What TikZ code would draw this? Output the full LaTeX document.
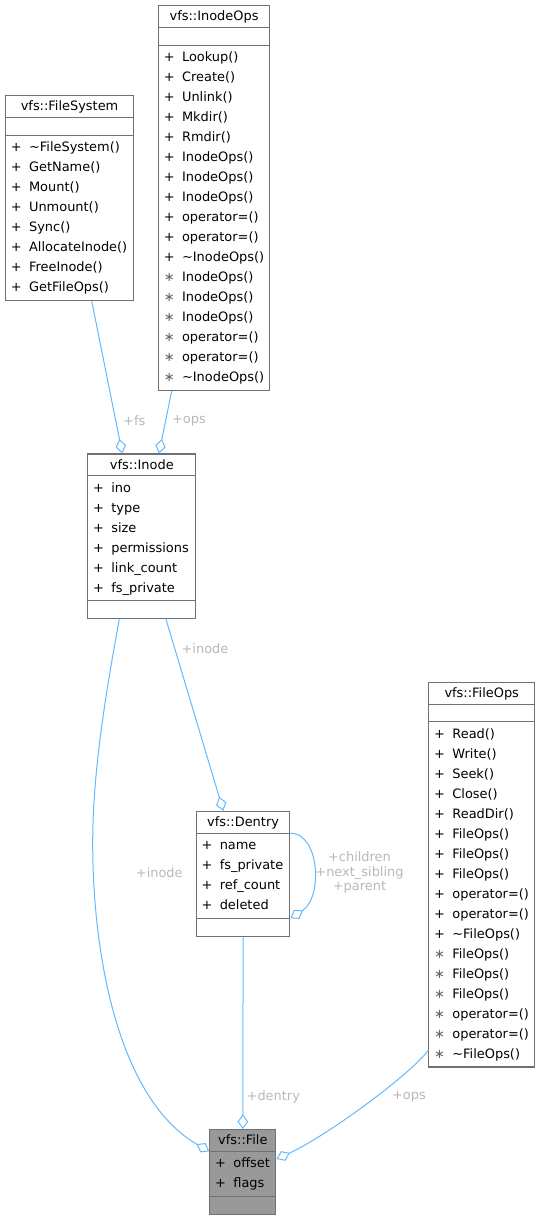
\documentclass[tikz,border=0pt]{standalone}
\usepackage{fontspec}
\setmainfont{DejaVu Sans}
\usetikzlibrary{shapes.multipart,arrows.meta,positioning,calc}

\definecolor{edgeblue}{HTML}{63B8FF}
\definecolor{boxgrey}{HTML}{707070}
\definecolor{lblgrey}{HTML}{B8B8B8}
\definecolor{filegrey}{HTML}{999999}

\newcommand{\members}[1]{\begin{tabular}{@{}c@{\hspace{5.5pt}}l@{}}#1\end{tabular}}
\newcommand{\nomembers}{\rule{0pt}{9.5pt}}
\newcommand{\clstitle}[1]{\rule[-3pt]{0pt}{12.5pt}#1}
\newcommand{\prv}{{\color{black!60}\char"2217}}

\tikzset{
  cls/.style={draw=boxgrey, line width=0.85pt, fill=white, rectangle split, rectangle split parts=3,
    rectangle split part align={center,left,left}, inner xsep=4pt, inner ysep=1.5pt,
    anchor=north west, font=\fontsize{9.7}{15}\selectfont},
  rel/.style={draw=edgeblue, line width=0.75pt, -{Diamond[open,length=11pt,width=8pt]}},
  lbl/.style={text=lblgrey, font=\fontsize{9.7}{10.9}\selectfont, inner sep=0pt}
}

\begin{document}
\begin{tikzpicture}[x=0.75pt,y=-0.75pt]
\useasboundingbox (0,0) rectangle (539,1220);

% classes
\node[cls, minimum width=96pt] (filesystem) at (5,95) {\clstitle{vfs::FileSystem}
  \nodepart{second}\nomembers
  \nodepart{third}\members{+ & \textasciitilde FileSystem()\\ + & GetName()\\ + & Mount()\\ + & Unmount()\\
    + & Sync()\\ + & AllocateInode()\\ + & FreeInode()\\ + & GetFileOps()}};

\node[cls, minimum width=83pt] (inodeops) at (158,5) {\clstitle{vfs::InodeOps}
  \nodepart{second}\nomembers
  \nodepart{third}\members{+ & Lookup()\\ + & Create()\\ + & Unlink()\\ + & Mkdir()\\ + & Rmdir()\\
    + & InodeOps()\\ + & InodeOps()\\ + & InodeOps()\\ + & operator=()\\ + & operator=()\\
    + & \textasciitilde InodeOps()\\ \prv & InodeOps()\\ \prv & InodeOps()\\ \prv & InodeOps()\\
    \prv & operator=()\\ \prv & operator=()\\ \prv & \textasciitilde InodeOps()}};

\node[cls, minimum width=81pt] (inode) at (87.3,453.4) {\clstitle{vfs::Inode}
  \nodepart{second}\members{+ & ino\\ + & type\\ + & size\\ + & permissions\\ + & link\_count\\ + & fs\_private}
  \nodepart{third}\nomembers};

\node[cls, minimum width=79.3pt] (fileops) at (428.3,681.7) {\clstitle{vfs::FileOps}
  \nodepart{second}\nomembers
  \nodepart{third}\members{+ & Read()\\ + & Write()\\ + & Seek()\\ + & Close()\\ + & ReadDir()\\
    + & FileOps()\\ + & FileOps()\\ + & FileOps()\\ + & operator=()\\ + & operator=()\\
    + & \textasciitilde FileOps()\\ \prv & FileOps()\\ \prv & FileOps()\\ \prv & FileOps()\\
    \prv & operator=()\\ \prv & operator=()\\ \prv & \textasciitilde FileOps()}};

\node[cls, minimum width=70.2pt] (dentry) at (195.7,810.8) {\clstitle{vfs::Dentry}
  \nodepart{second}\members{+ & name\\ + & fs\_private\\ + & ref\_count\\ + & deleted}
  \nodepart{third}\nomembers};

\node[cls, minimum width=49.5pt, fill=filegrey] (file) at (209.3,1129) {\clstitle{vfs::File}
  \nodepart{second}\members{+ & offset\\ + & flags}
  \nodepart{third}\nomembers};

% relations
\draw[rel] ($(filesystem.south west)+(86.7,0)$) -- ($(inode.north west)+(35,0)$);
\draw[rel] ($(inodeops.south west)+(13.7,0)$) -- ($(inode.north west)+(71.7,0)$);
\draw[rel] ($(inode.south west)+(78.7,0)$) -- ($(dentry.north west)+(27.6,0)$);
\draw[rel] ($(inode.south west)+(32,0)$) .. controls (106.5,689) and (92.7,770) .. (92.7,843)
  .. controls (92.7,960) and (120,1100) .. (file.text split west);
\draw[rel] (dentry.south) -- (file.north);
\draw[rel] ($(fileops.south west)+(0,-17.3)$) .. controls (410,1075) and (325.3,1136.9)
  .. ($(file.text split east)+(0,7.6)$);
\draw[rel] (dentry.text split east) .. controls +(29,0) and +(33,-21) .. (dentry.two split east);

% labels
\node[lbl] (lfs) at (134.3,420.7) {+fs};
\node[lbl] (lops) at (189,420.7) {+ops};
\node[lbl] (linode) at (205,648.2) {+inode};
\node[lbl] (lfileinode) at (159.3,872.5) {+inode};
\node[lbl, align=center] (lself) at (359.5,872.7) {+children\\+next\_sibling\\+parent};
\node[lbl] (ldentry) at (273.3,1096.7) {+dentry};
\node[lbl] (lfileops) at (409,1096.7) {+ops};
\end{tikzpicture}
\end{document}
